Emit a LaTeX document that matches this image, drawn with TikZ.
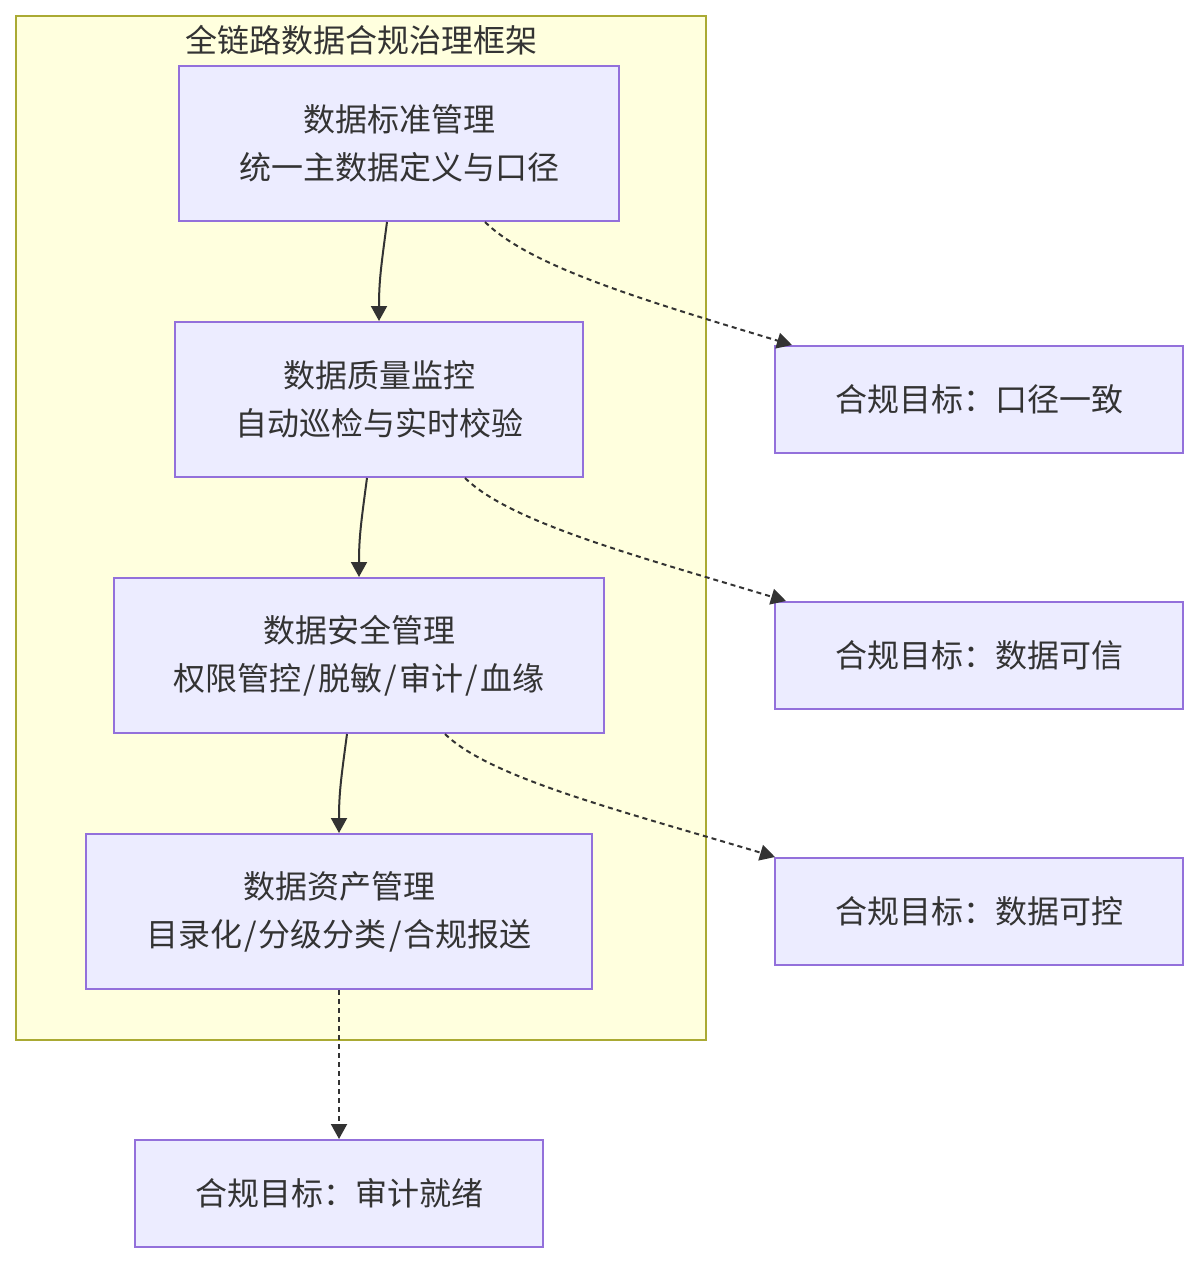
\documentclass[tikz,border=0pt]{standalone}
\usepackage{fontspec}
\setmainfont{Noto Sans CJK SC}
\usetikzlibrary{arrows.meta}

\definecolor{boxfill}{HTML}{ECECFF}
\definecolor{boxline}{HTML}{9370DB}
\definecolor{framefill}{HTML}{FFFFDE}
\definecolor{frameline}{HTML}{AAAA33}
\definecolor{ink}{HTML}{333333}

\newcommand\slashsep{\hspace{2.2pt}/\hspace{2.2pt}}

\begin{document}
\begin{tikzpicture}[x=1pt, y=-1pt,
    box/.style={draw=boxline, fill=boxfill, line width=2pt, inner sep=0pt,
        align=center, text=ink, font=\fontsize{32}{48}\selectfont},
    flow/.style={draw=ink, line width=2pt, -{Triangle[length=15pt,width=16pt]}},
    goal/.style={flow, dash pattern=on 5pt off 4pt}]
    \useasboundingbox (0,0) rectangle (1199,1264);

    % 外框
    \node[draw=frameline, fill=framefill, line width=2pt, minimum width=690pt, minimum height=1024pt] (frame) at (361,528) {};
    \node[text=ink, font=\fontsize{32}{48}\selectfont] (title) at (361,40) {全链路数据合规治理框架};

    % 治理环节
    \node[box, minimum width=440pt, minimum height=155pt] (std) at (399,143.5) {数据标准管理\\统一主数据定义与口径};
    \node[box, minimum width=408pt, minimum height=155pt] (qual) at (379,399.5) {数据质量监控\\自动巡检与实时校验};
    \node[box, minimum width=490pt, minimum height=155pt] (sec) at (359,655.5) {数据安全管理\\权限管控\slashsep 脱敏\slashsep 审计\slashsep 血缘};
    \node[box, minimum width=506pt, minimum height=155pt] (asset) at (339,911.5) {数据资产管理\\目录化\slashsep 分级分类\slashsep 合规报送};

    % 合规目标
    \node[box, minimum width=408pt, minimum height=107pt] (goal1) at (979,399.5) {合规目标：口径一致};
    \node[box, minimum width=408pt, minimum height=107pt] (goal2) at (979,655.5) {合规目标：数据可信};
    \node[box, minimum width=408pt, minimum height=107pt] (goal3) at (979,911.5) {合规目标：数据可控};
    \node[box, minimum width=408pt, minimum height=107pt] (goal4) at (339,1193.5) {合规目标：审计就绪};

    % 主流程
    \draw[flow] ([xshift=-12pt]std.south) .. controls +(-6,45) and +(0,-40) .. (qual.north);
    \draw[flow] ([xshift=-12pt]qual.south) .. controls +(-6,45) and +(0,-40) .. (sec.north);
    \draw[flow] ([xshift=-12pt]sec.south) .. controls +(-6,45) and +(0,-40) .. (asset.north);

    % 指向目标（虚线）
    \draw[goal] ([xshift=86pt]std.south) .. controls +(45,44) and +(-153,-46) .. ([xshift=18pt]goal1.north west);
    \draw[goal] ([xshift=86pt]qual.south) .. controls +(45,44) and +(-153,-46) .. ([xshift=12pt]goal2.north west);
    \draw[goal] ([xshift=86pt]sec.south) .. controls +(45,44) and +(-153,-46) .. ([xshift=1pt]goal3.north west);
    \draw[goal] (asset.south) -- (goal4.north);
\end{tikzpicture}
\end{document}
